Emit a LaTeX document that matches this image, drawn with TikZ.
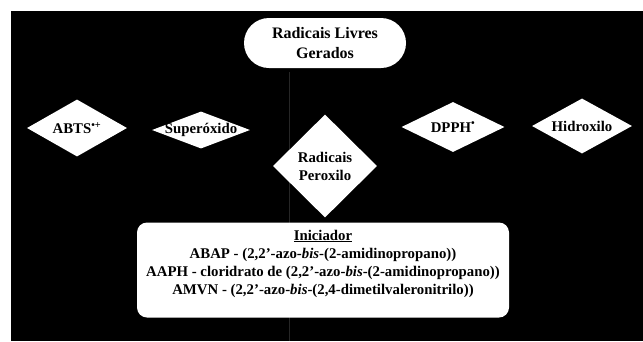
\documentclass[tikz,border=0pt]{standalone}
\usepackage{fontspec}
\setmainfont{Liberation Serif}
\usetikzlibrary{shapes.geometric}

\begin{document}
\begin{tikzpicture}[x=1pt,y=-1pt,
  gem/.style={diamond,fill=white,inner sep=0pt},
  lbl/.style={align=center,font=\bfseries\fontsize{14.8}{18}\selectfont}]
\useasboundingbox (0,0) rectangle (643,341);
\fill[white] (0,0) rectangle (643,341);
\fill[black] (11,11) rectangle (643,341);
\draw[gray!30!black,very thin] (289,72) -- (289,341);

\node[lbl,font=\bfseries\fontsize{16}{20}\selectfont,fill=white,rounded corners=25pt,minimum width=162pt,minimum height=50pt] (gerados) at (325,43) {Radicais Livres\\Gerados};

\node[gem,minimum width=100pt,minimum height=57pt] (abts) at (77,128) {};
\node[gem,minimum width=98pt,minimum height=37pt] (super) at (201,130) {};
\node[gem,minimum width=104pt,minimum height=103pt] (perox) at (325,166) {};
\node[gem,minimum width=103pt,minimum height=50pt] (dpph) at (453,127) {};
\node[gem,minimum width=100pt,minimum height=55pt] (hidrox) at (582,126) {};

\node[lbl] at (abts) {ABTS\textsuperscript{\textbullet+}};
\node[lbl] at (super) {Superóxido};
\node[lbl] at (perox) {Radicais\\Peroxilo};
\node[lbl] at (dpph) {DPPH\textsuperscript{\textbullet}};
\node[lbl] at (hidrox) {Hidroxilo};

\node[fill=white,rounded corners=10pt,minimum width=372pt,minimum height=95pt] (ini) at (323,270) {};
\node[lbl,anchor=north] (initxt) at ([yshift=-4pt]ini.north) {\underline{Iniciador}\\
  ABAP - (2,2’-azo-\textit{bis}-(2-amidinopropano))\\
  AAPH - cloridrato de (2,2’-azo-\textit{bis}-(2-amidinopropano))\\
  AMVN - (2,2’-azo-\textit{bis}-(2,4-dimetilvaleronitrilo))};
\end{tikzpicture}
\end{document}
